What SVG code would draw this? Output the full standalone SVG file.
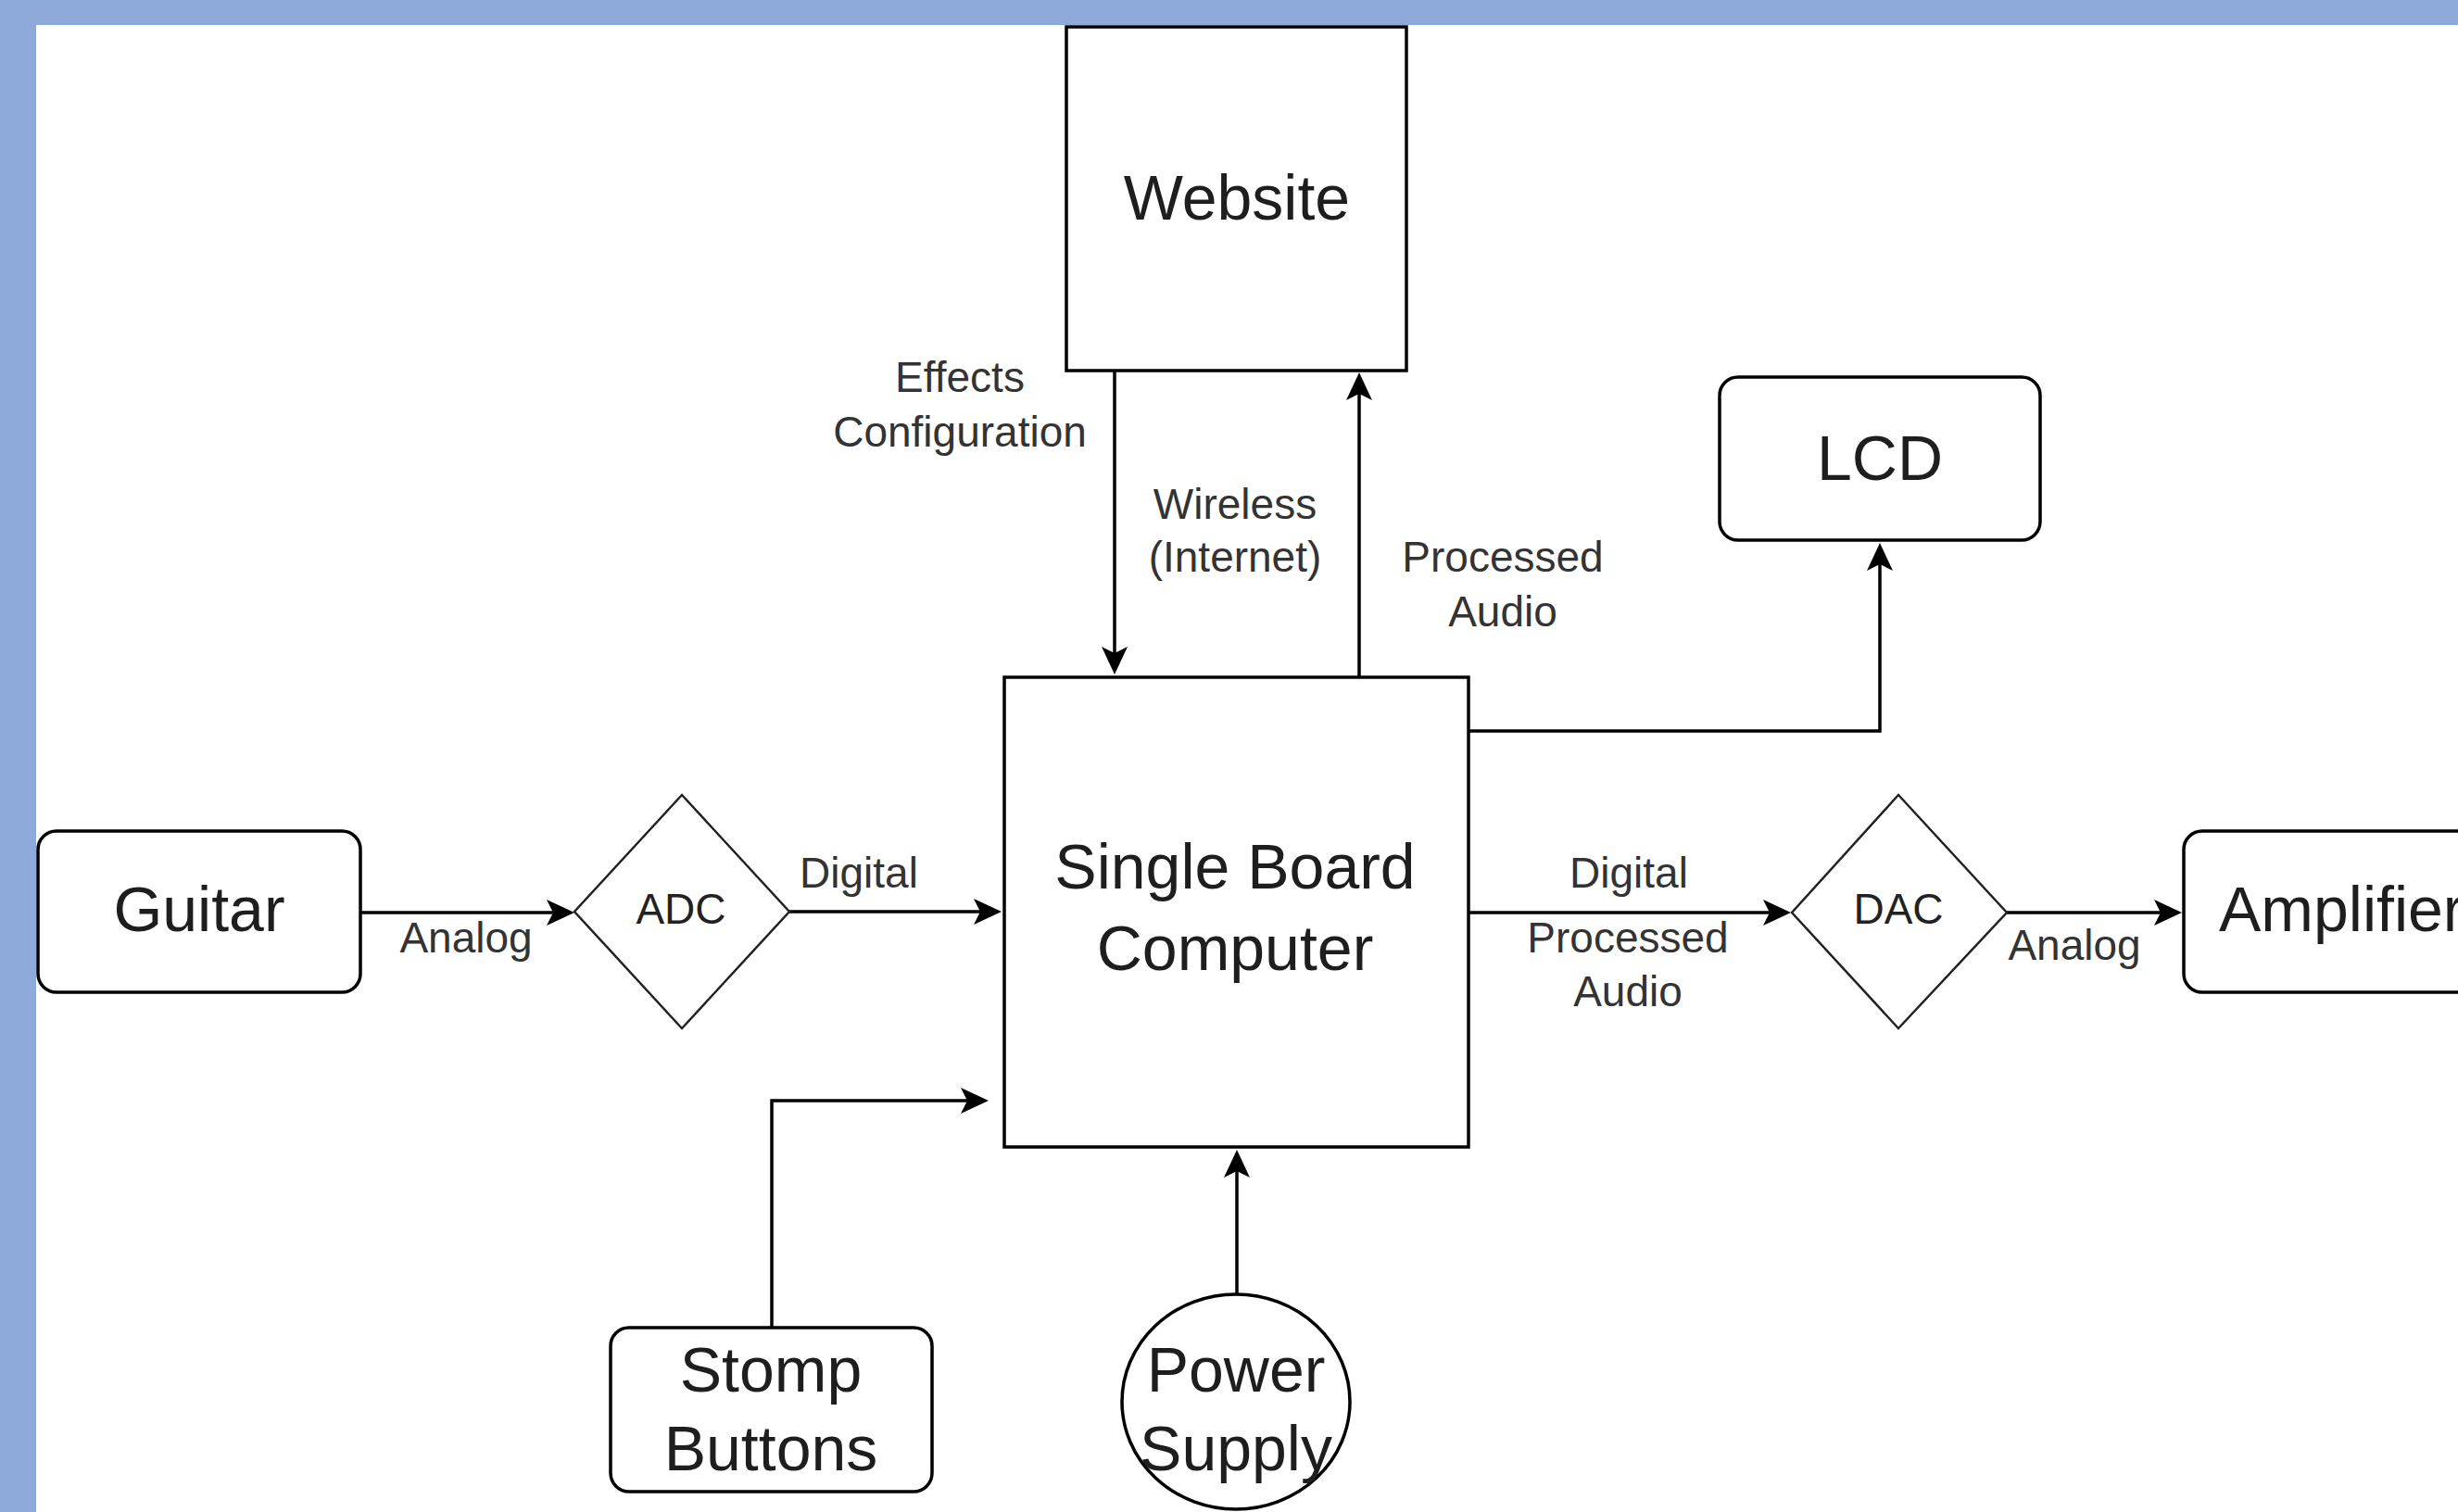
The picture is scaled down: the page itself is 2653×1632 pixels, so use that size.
<svg xmlns="http://www.w3.org/2000/svg" width="2653" height="1632" viewBox="0 0 2653 1632">
<style>
  .box{fill:#fff;stroke:#000;stroke-width:3.5}
  .dia{fill:#fff;stroke:#222;stroke-width:2.5}
  .edge{fill:none;stroke:#000;stroke-width:3.5}
  .nl{font-family:"Liberation Sans",Arial,sans-serif;font-size:68px;fill:#1e1e1e;text-anchor:middle}
  .nl.start{text-anchor:start}
  .dl{font-family:"Liberation Sans",Arial,sans-serif;font-size:46px;fill:#222;text-anchor:middle}
  .el{font-family:"Liberation Sans",Arial,sans-serif;font-size:46px;fill:#333;text-anchor:middle}
</style>
<defs>
  <marker id="arr" markerUnits="userSpaceOnUse" markerWidth="40" markerHeight="40" viewBox="-30 -20 40 40" refX="0" refY="0" orient="auto" overflow="visible">
    <path d="M10,0 L-20,-14 L-13,0 L-20,14 Z" fill="#000"/>
  </marker>
</defs>
<rect x="0" y="0" width="2653" height="1632" fill="#fff"/>
<rect x="0" y="0" width="2653" height="27" fill="#8EAADB"/>
<rect x="0" y="0" width="39" height="1632" fill="#8EAADB"/>

<g id="connectors">
  <path class="edge" d="M389,985 H610" marker-end="url(#arr)"/>
  <path class="edge" d="M852,984 H1071" marker-end="url(#arr)"/>
  <path class="edge" d="M1585,985 H1923" marker-end="url(#arr)"/>
  <path class="edge" d="M2166,985 H2345" marker-end="url(#arr)"/>
  <path class="edge" d="M1203,400 V718" marker-end="url(#arr)"/>
  <path class="edge" d="M1467,731 V412" marker-end="url(#arr)"/>
  <path class="edge" d="M1585,789 H2029 V596" marker-end="url(#arr)"/>
  <path class="edge" d="M833,1433 V1188 H1057" marker-end="url(#arr)"/>
  <path class="edge" d="M1335,1397 V1251" marker-end="url(#arr)"/>
  <text class="el" x="503" y="1028">Analog</text>
  <text class="el" x="927" y="958">Digital</text>
  <text class="el" x="1758" y="958">Digital</text>
  <text class="el" x="1757" y="1028">Processed</text>
  <text class="el" x="1757" y="1086">Audio</text>
  <text class="el" x="2239" y="1036">Analog</text>
  <text class="el" x="1036" y="423">Effects</text>
  <text class="el" x="1036" y="482">Configuration</text>
  <text class="el" x="1333" y="560">Wireless</text>
  <text class="el" x="1333" y="617">(Internet)</text>
  <text class="el" x="1622" y="617">Processed</text>
  <text class="el" x="1622" y="676">Audio</text>
</g>

<g id="website">
  <rect class="box" x="1151" y="29" width="367" height="371"/>
  <text class="nl" x="1335" y="237">Website</text>
</g>
<g id="lcd">
  <rect class="box" x="1856" y="407" width="346" height="176" rx="20"/>
  <text class="nl" x="2029" y="518">LCD</text>
</g>
<g id="sbc">
  <rect class="box" x="1084" y="731" width="501" height="507"/>
  <text class="nl" x="1333" y="959">Single Board</text>
  <text class="nl" x="1333" y="1047">Computer</text>
</g>
<g id="guitar">
  <rect class="box" x="41" y="897" width="348" height="174" rx="20"/>
  <text class="nl" x="215" y="1005">Guitar</text>
</g>
<g id="adc">
  <polygon class="dia" points="736,858 852,984 736,1110 620,984"/>
  <text class="dl" x="735" y="997">ADC</text>
</g>
<g id="dac">
  <polygon class="dia" points="2049,858 2166,985 2049,1110 1934,985"/>
  <text class="dl" x="2049" y="997">DAC</text>
</g>
<g id="amplifier">
  <rect class="box" x="2357" y="897" width="340" height="174" rx="20"/>
  <text class="nl start" x="2395" y="1005">Amplifier</text>
</g>
<g id="stomp">
  <rect class="box" x="659" y="1433" width="347" height="177" rx="20"/>
  <text class="nl" x="832" y="1502">Stomp</text>
  <text class="nl" x="832" y="1587">Buttons</text>
</g>
<g id="power">
  <ellipse class="box" cx="1334" cy="1513" rx="123" ry="116" stroke-width="2.5"/>
  <text class="nl" x="1334" y="1502">Power</text>
  <text class="nl" x="1334" y="1587">Supply</text>
</g>
</svg>
